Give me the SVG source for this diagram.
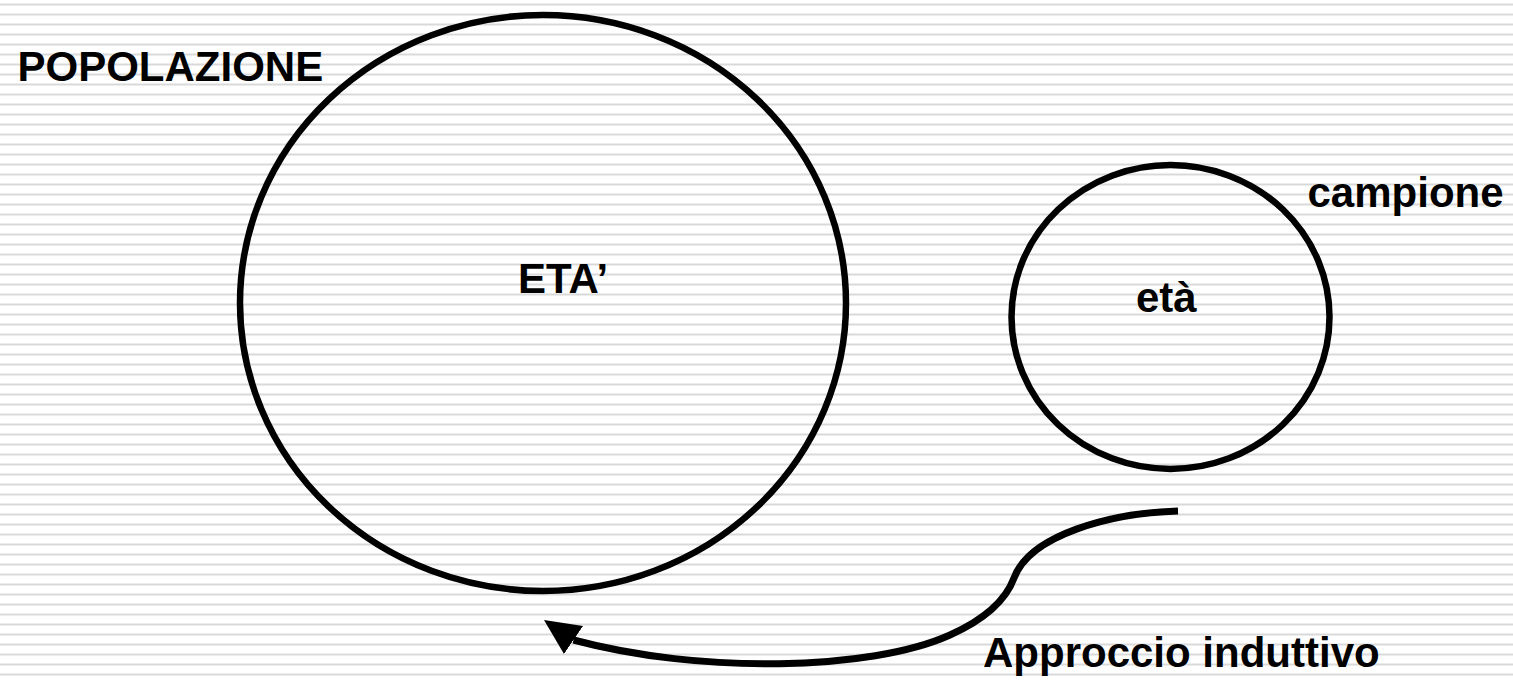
<svg xmlns="http://www.w3.org/2000/svg" width="1513" height="682" viewBox="0 0 1513 682">
<style>
.lbl{font-family:"Liberation Sans",Arial,sans-serif;font-weight:bold;font-size:42px;fill:#000}
.shape{fill:none;stroke:#000;stroke-width:6.5}
.conn{fill:none;stroke:#000;stroke-width:7}
</style>
<defs>
<pattern id="stripes" x="0" y="0" width="20" height="10" patternUnits="userSpaceOnUse">
<rect x="0" y="3.5" width="20" height="2" fill="#d9d9d9"/>
</pattern>
<marker id="arrow" markerUnits="userSpaceOnUse" markerWidth="40" markerHeight="40" viewBox="0 -20 40 40" refX="0" refY="0" orient="214">
<path d="M35.6,0 L0,-17 L0,17 z" fill="#000"/>
</marker>
</defs>
<rect width="1513" height="682" fill="#fff"/>
<rect width="1513" height="682" fill="url(#stripes)"/>
<g id="popolazione">
<ellipse class="shape" cx="543" cy="303" rx="303" ry="288"/>
<text class="lbl" x="17.5" y="81">POPOLAZIONE</text>
<text class="lbl" x="518" y="293">ETA’</text>
</g>
<g id="campione">
<ellipse class="shape" cx="1170.5" cy="317" rx="159" ry="152"/>
<text class="lbl" x="1307.5" y="207">campione</text>
<text class="lbl" x="1136" y="312">età</text>
</g>
<g id="connectors">
<path class="conn" marker-end="url(#arrow)" d="M1178,511 C1110,513 1030,535 1014,578 C1007,597 990,617 950,635 C870,671 700,674 573.5,640"/>
<text class="lbl" x="983" y="667">Approccio induttivo</text>
</g>
</svg>
